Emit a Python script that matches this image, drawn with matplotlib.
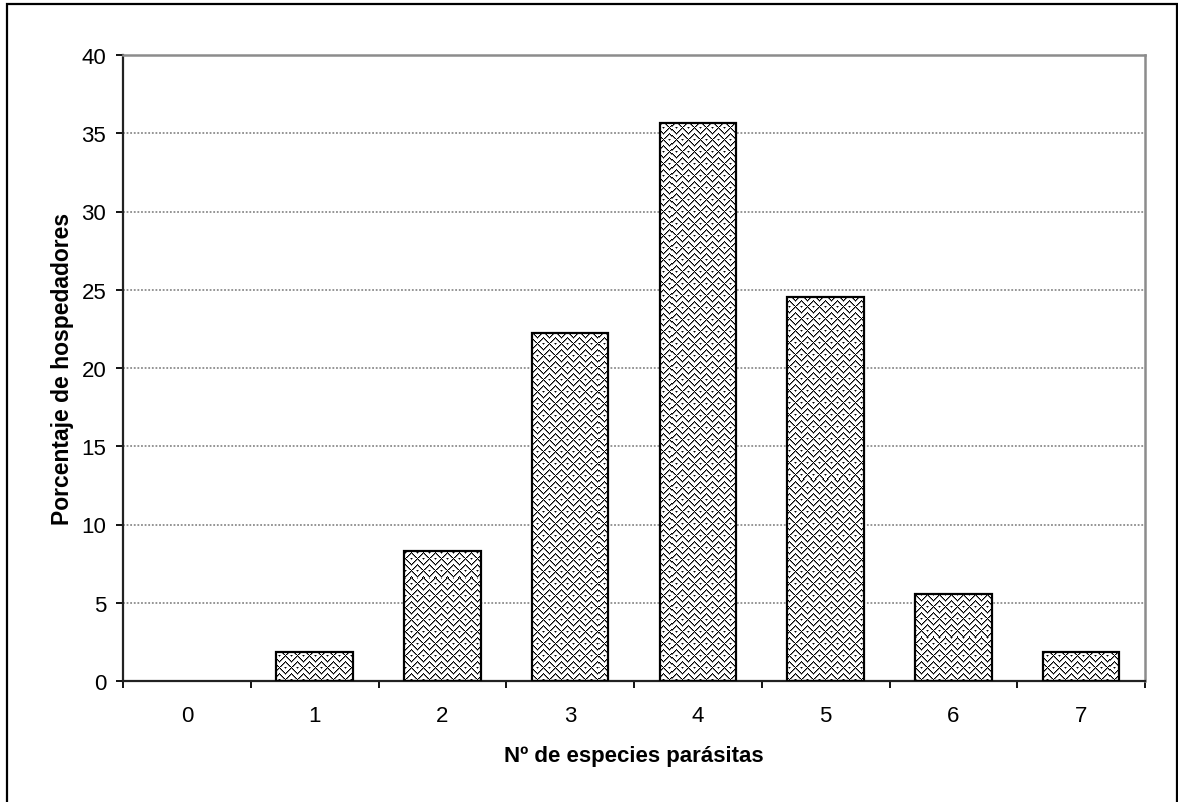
import numpy as np
import matplotlib
matplotlib.use("Agg")
import matplotlib.pyplot as plt
from matplotlib.patches import Rectangle

categories = ["0", "1", "2", "3", "4", "5", "6", "7"]
values = [0.0, 1.85, 8.33, 22.22, 35.65, 24.54, 5.56, 1.85]
yticks = [0, 5, 10, 15, 20, 25, 30, 35, 40]

plt.rcParams['font.family'] = ['Liberation Sans', 'DejaVu Sans']

W, H = 1178, 803
fig = plt.figure(figsize=(W / 100, H / 100), dpi=100)
ax = fig.add_axes([123 / W, 1 - 682 / H, (1145 - 123) / W, (682 - 56) / H])

# figure border
fig.patches.append(Rectangle((7 / W, -0.02), (1177 - 7) / W, 1.02 - 5 / H,
                             transform=fig.transFigure, fill=False,
                             edgecolor='black', lw=1.6, zorder=10))

x = np.arange(len(categories))
ax.set_xlim(-0.5, len(categories) - 0.5)
ax.set_ylim(0, 40)

# texture (weave-like) for bar fills
axw, axh = 1145 - 123, 682 - 56
ii, jj = np.mgrid[0:axh, 0:axw]
P = 12
band = ((jj + (ii // 12) * 6) // 6) % 2
s = np.where(band == 0, 1, -1)
t = (ii + s * jj) % P
tex = np.ones((axh, axw))
chk = ((ii + jj) % 2 == 0)
dark = (t == 0) | (t == 1) | (t == 6) | (t == 7)
tex[dark & chk] = 0.0
tex[dark & ~chk] = 0.5

bars = ax.bar(x, values, width=0.6, facecolor='none', edgecolor='black',
              linewidth=1.6, zorder=3)
for b, v in zip(bars, values):
    if v <= 0:
        b.set_visible(False)
        continue
    im = ax.imshow(tex, cmap='gray', vmin=0, vmax=1, interpolation='nearest',
                   extent=[-0.5, len(categories) - 0.5, 0, 40], origin='upper',
                   aspect='auto', zorder=2)
    im.set_clip_path(b)

ax.set_aspect('auto')
ax.set_xlim(-0.5, len(categories) - 0.5)
ax.set_ylim(0, 40)

# gridlines
for yv in yticks[1:-1]:
    ax.axhline(yv, color='#8c8c8c', lw=1.3, ls=(0, (1, 1)), zorder=1)

for sp in ['top', 'right']:
    ax.spines[sp].set_color('#8c8c8c')
    ax.spines[sp].set_linewidth(1.8)
for sp in ['left', 'bottom']:
    ax.spines[sp].set_color('#222222')
    ax.spines[sp].set_linewidth(1.6)

ax.set_yticks(yticks)
ax.set_yticklabels([str(v) for v in yticks])
ax.tick_params(axis='y', direction='out', length=5, width=1.3, pad=7,
               labelsize=16, colors='black')
ax.set_xticks(x)
ax.set_xticklabels(categories)
ax.tick_params(axis='x', which='major', length=0, pad=17, labelsize=16)
ax.set_xticks(np.arange(-0.5, len(categories)), minor=True)
ax.tick_params(axis='x', which='minor', direction='out', length=5, width=1.3)

ax.set_xlabel('Nº de especies parásitas', fontsize=16, fontweight='bold')
ax.set_ylabel('Porcentaje de hospedadores', fontsize=16.5, fontweight='bold')
ax.xaxis.set_label_coords(0.5, (682 - 757) / axh)
ax.yaxis.set_label_coords((63 - 123) / axw, 0.5)
ax.xaxis.label.set_va('center')
ax.yaxis.label.set_va('center')

fig.savefig('out.png', dpi=100)
